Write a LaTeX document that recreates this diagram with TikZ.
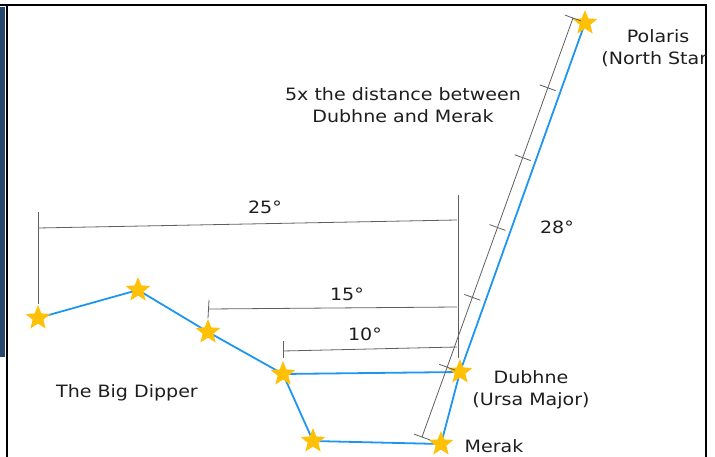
\documentclass[tikz,border=0pt]{standalone}
\usepackage{fontspec}
\setmainfont{DejaVu Sans}[FakeStretch=1.12]
\usetikzlibrary{shapes.geometric,calc,backgrounds}
\definecolor{skyblue}{RGB}{30,150,240}
\definecolor{gold}{RGB}{255,193,7}
\definecolor{dimgray}{RGB}{95,95,95}
\definecolor{inkblack}{RGB}{30,30,30}
\definecolor{navy}{RGB}{38,72,108}

\begin{document}
\begin{tikzpicture}[x=1pt,y=-1pt,
  starnode/.style={star,star points=5,star point ratio=2.3,fill=gold,inner sep=0pt,minimum size=26pt},
  figure/.style={draw=skyblue,line width=1.8pt},
  dimline/.style={draw=dimgray,line width=0.8pt},
  handtext/.style={text=inkblack,font=\fontsize{17}{22}\selectfont,inner sep=0pt}]
  \useasboundingbox (0,0) rectangle (715,457);
  % screenshot frame
  \fill[navy] (0,7) rectangle (4.5,357);
  \draw[black,line width=1.6pt] (0,5) -- (706.8,5);
  \draw[black,line width=1.6pt] (7,5) -- (7,457);
  \draw[black,line width=1.6pt] (706,5) -- (706,457);

  % the stars
  \node[starnode] (alkaid) at (38,318) {};
  \node[starnode] (mizar) at (138,290) {};
  \node[starnode] (alioth) at (208,332) {};
  \node[starnode] (megrez) at (283,374) {};
  \node[starnode] (phecda) at (313,441) {};
  \node[starnode] (merak) at (441,444) {};
  \node[starnode] (dubhe) at (460,372) {};
  \node[starnode] (polaris) at (585,23) {};
  \begin{scope}[on background layer]
    \draw[figure] (alkaid.center) -- (mizar.center) -- (alioth.center) -- (megrez.center)
      -- (phecda.center) -- (merak.center) -- (dubhe.center) -- (polaris.center);
    \draw[figure] (megrez.center) -- (dubhe.center);
  \end{scope}

  % angular distances
  \coordinate (w25) at (38,228);  \coordinate (e25) at (457,220);
  \coordinate (w15) at (209,309); \coordinate (e15) at (457,307);
  \coordinate (w10) at (283,351); \coordinate (e10) at (457,347);
  \coordinate (topA) at (38,212);  \coordinate (topB) at (209,300);
  \coordinate (topC) at (283,341); \coordinate (lowC) at (283,358);
  \coordinate (topR) at (458,195); \coordinate (lowR) at (458,358);
  \draw[dimline] (w25) -- (e25);
  \draw[dimline] (w15) -- (e15);
  \draw[dimline] (w10) -- (e10);
  \draw[dimline] (topA) -- (alkaid.north);
  \draw[dimline] (topB) -- (alioth.north);
  \draw[dimline] (topC) -- (lowC);
  \draw[dimline] (topR) -- (lowR);
  \node[handtext] (deg25) at (265,207) {25°};
  \node[handtext] (deg15) at (347,294) {15°};
  \node[handtext] (deg10) at (365,334) {10°};

  % pointer to polaris, six equal steps
  \coordinate (dimS) at (422,437);
  \coordinate (dimN) at (573,18);
  \draw[dimline] (dimS) -- (dimN);
  \foreach \k in {0,...,6}{
    \draw[dimline] ($(dimS)!\k/6!(dimN)$) +(-8,-2.9) -- +(8,2.9);
  }
  \node[handtext] (deg28) at (557,227) {28°};
  \node[handtext,align=center] (note) at (403,105) {5x the distance between\\Dubhne and Merak};

  % names
  \begin{scope}
    \clip (7,5) rectangle (706,457);
    \node[handtext,align=center] (polarisname) at (658,48) {Polaris\\(North Star)};
  \end{scope}
  \node[handtext,align=center] (dubhename) at (531,390) {Dubhne\\(Ursa Major)};
  \node[handtext] (merakname) at (494,446) {Merak};
  \node[handtext] (dippername) at (127,393) {The Big Dipper};
\end{tikzpicture}
\end{document}
